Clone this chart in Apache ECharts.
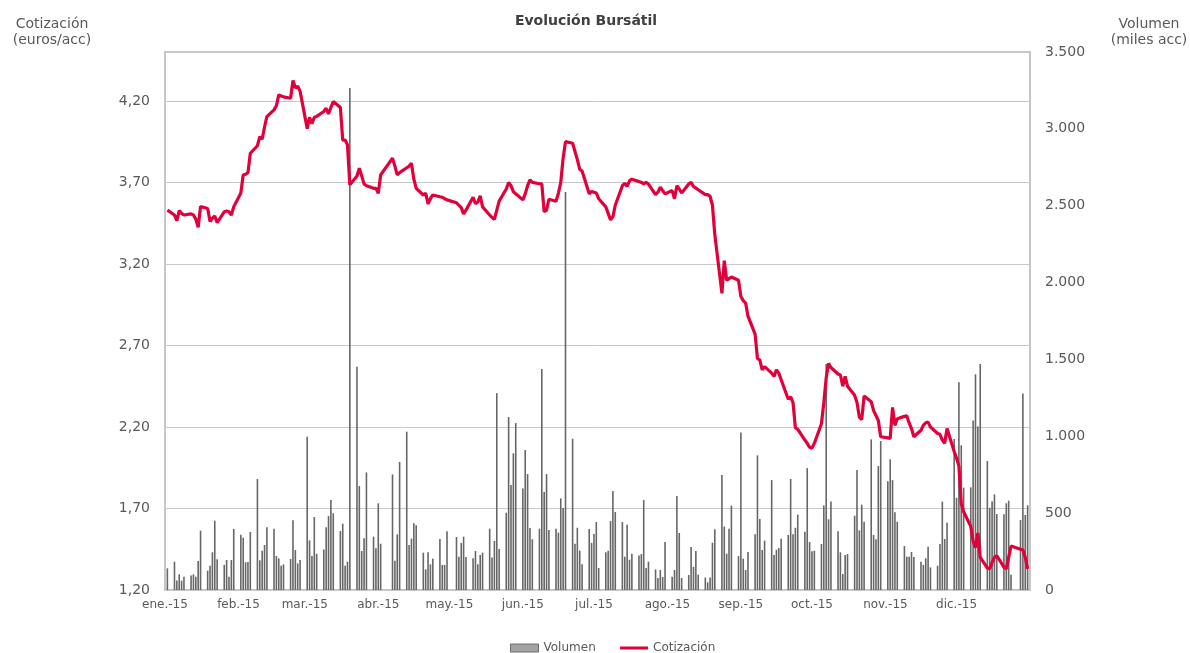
<!DOCTYPE html>
<html><head><meta charset="utf-8">
<script src="https://cdn.jsdelivr.net/npm/echarts@6/dist/echarts.min.js"></script>
<style>html,body{margin:0;padding:0;background:#fff}#c{width:1190px;height:653px}</style>
</head><body><div id="c"></div>
<script>
// Month tick labels (x axis)
const monthLabels = ['ene.-15','feb.-15','mar.-15','abr.-15','may.-15','jun.-15','jul.-15','ago.-15','sep.-15','oct.-15','nov.-15','dic.-15'];
// Market holidays (weekdays without trading)
const holidays = ['2015-01-01','2015-04-03','2015-04-06','2015-05-01','2015-12-25'];

// Daily volume (miles acc), one value per trading day
const volumen = [
 141,184,61,102,61,87,95,102,87,189,386,126,158,245,451,200,163,195,87,195,397,
 360,340,180,182,377,722,193,256,293,408,399,221,206,158,167,202,453,260,173,195,
 997,323,221,475,236,264,408,481,585,499,384,431,158,184,3265,1453,676,254,336,765,347,271,
 564,301,752,191,362,833,1030,293,334,434,421,243,134,245,167,204,332,163,163,382,
 345,217,306,347,215,206,254,167,228,243,399,212,319,1281,267,503,1125,683,889,1086,
 661,911,754,403,330,399,1437,637,754,390,399,373,596,533,2589,984,301,405,256,167,397,306,
 364,442,143,245,256,449,644,507,442,217,425,197,236,225,234,585,143,184,134,78,130,85,312,
 87,130,611,371,78,98,280,150,254,100,82,50,82,308,395,748,412,236,399,549,221,
 1025,204,130,247,362,876,462,260,321,715,228,262,273,334,358,722,362,405,490,379,793,312,
 252,256,299,549,1470,460,575,382,245,104,228,234,483,780,388,555,444,980,358,330,807,969,
 707,850,715,505,444,286,217,217,247,215,184,163,206,282,147,158,299,575,332,438,982,
 600,1351,941,666,668,1103,1403,1064,1470,839,535,577,622,494,492,564,581,100,455,1279,488,551
];

// Daily close (euros/acc), one value per trading day
const cotizacion = [
 3.53,3.50,3.466,3.527,3.51,3.50,3.507,3.50,3.475,3.425,3.552,3.54,3.46,3.48,3.494,3.454,3.52,3.525,3.52,3.50,3.55,
 3.635,3.746,3.75,3.76,3.879,3.925,3.98,3.965,4.04,4.104,4.145,4.17,4.237,4.23,4.225,4.216,4.325,4.28,4.29,4.26,
 4.03,4.10,4.06,4.10,4.105,4.135,4.155,4.12,4.16,4.196,4.16,3.96,3.96,3.93,3.685,3.74,3.787,3.74,3.691,3.68,3.664,3.664,
 3.634,3.746,3.848,3.80,3.746,3.76,3.79,3.80,3.818,3.72,3.664,3.623,3.634,3.568,3.60,3.623,3.612,3.609,3.60,3.593,
 3.575,3.56,3.545,3.507,3.53,3.609,3.57,3.58,3.617,3.55,3.50,3.485,3.474,3.53,3.585,3.66,3.70,3.68,3.644,3.63,
 3.593,3.63,3.68,3.715,3.70,3.692,3.691,3.52,3.53,3.597,3.585,3.634,3.70,3.85,3.95,3.94,3.89,3.84,3.78,3.77,3.63,3.645,
 3.64,3.635,3.60,3.55,3.51,3.47,3.49,3.56,3.68,3.695,3.675,3.71,3.72,3.705,3.70,3.692,3.70,3.69,3.625,3.64,3.67,3.65,3.63,
 3.65,3.60,3.68,3.66,3.635,3.69,3.70,3.675,3.665,3.655,3.625,3.625,3.615,3.56,3.38,3.02,3.22,3.10,3.11,3.12,3.10,
 3.00,2.975,2.96,2.88,2.77,2.62,2.61,2.55,2.57,2.53,2.51,2.55,2.53,2.49,2.37,2.385,2.35,2.195,2.186,2.12,2.10,2.075,
 2.07,2.10,2.22,2.35,2.50,2.59,2.565,2.525,2.519,2.45,2.51,2.45,2.395,2.35,2.26,2.245,2.39,2.355,2.30,2.27,2.24,2.14,
 2.133,2.13,2.32,2.21,2.25,2.265,2.268,2.225,2.19,2.14,2.18,2.21,2.226,2.23,2.20,2.16,2.155,2.12,2.10,2.19,2.05,
 2.01,1.96,1.73,1.68,1.59,1.50,1.46,1.55,1.40,1.335,1.33,1.37,1.40,1.41,1.34,1.33,1.40,1.47,1.45,1.445,1.40,1.33
];

// Trading-day calendar of 2015 (weekdays minus holidays)
function tradingDays() {
  const out = [];
  for (let t = Date.UTC(2015,0,1); t < Date.UTC(2016,0,1); t += 86400000) {
    const d = new Date(t);
    const wd = d.getUTCDay();
    const iso = d.toISOString().slice(0,10);
    if (wd === 0 || wd === 6 || holidays.indexOf(iso) >= 0) continue;
    out.push(t);
  }
  return out;
}
const days = tradingDays();
const volData = days.map((t,i) => [t, volumen[i]]);
const priceData = days.map((t,i) => [t, cotizacion[i]]);
const monthStarts = monthLabels.map((_, m) => Date.UTC(2015, m, 1));

const FONT = '"DejaVu Sans", Verdana, sans-serif';
const GREY = '#595959';
const RED = '#e2003b';

function fmtVol(v) {
  if (v >= 1000) return Math.floor(v/1000) + '.' + String(v % 1000).padStart(3,'0');
  return String(v);
}

const chart = echarts.init(document.getElementById('c'), null, {renderer:'canvas'});
chart.setOption({
  animation: false,
  textStyle: {fontFamily: FONT},
  grid: {left:165, right:160, top:52, bottom:63, show:true, borderColor:'#c6c6c6', borderWidth:2, backgroundColor:'transparent'},
  xAxis: {
    type:'value', min: Date.UTC(2015,0,1), max: Date.UTC(2016,0,1),
    axisLine:{show:false}, axisTick:{show:false}, splitLine:{show:false},
    axisLabel:{
      customValues: monthStarts,
      formatter: (v) => monthLabels[new Date(v).getUTCMonth()],
      color: GREY, fontSize:12, fontFamily: FONT, margin:9
    }
  },
  yAxis: [
    {type:'value', position:'left', min:1.2, max:4.5, interval:0.5,
     axisLine:{show:false}, axisTick:{show:false},
     splitLine:{show:true, lineStyle:{color:'#c8c8c8', width:1}},
     axisLabel:{formatter: v => v.toFixed(2).replace('.',','), showMaxLabel:false, color:GREY, fontSize:14, fontFamily:FONT, margin:15}},
    {type:'value', position:'right', min:0, max:3500, interval:500,
     axisLine:{show:false}, axisTick:{show:false}, splitLine:{show:false},
     axisLabel:{formatter: fmtVol, color:GREY, fontSize:14, fontFamily:FONT, margin:15}}
  ],
  legend: [
    {left: 505, top: 637, itemWidth: 28, itemHeight: 8, itemGap: 4,
     textStyle:{color:GREY, fontSize:12, fontFamily:FONT},
     data: [{name:'Volumen', icon:'rect', itemStyle:{color:'#a3a3a3', borderColor:'#6e6e6e', borderWidth:1}}]},
    {left: 615, top: 637, itemWidth: 28, itemHeight: 3, itemGap: 4,
     textStyle:{color:GREY, fontSize:12, fontFamily:FONT},
     data: [{name:'Cotización', icon:'rect', itemStyle:{color:RED}}]}
  ],
  graphic: [
    {type:'text', x:586, y:21, style:{text:'Evolución Bursátil', fill:'#404040', font:'bold 14px ' + FONT, align:'center', verticalAlign:'middle'}},
    {type:'text', x:52, y:24, style:{text:'Cotización', fill:GREY, font:'14px ' + FONT, align:'center', verticalAlign:'middle'}},
    {type:'text', x:52, y:40, style:{text:'(euros/acc)', fill:GREY, font:'14px ' + FONT, align:'center', verticalAlign:'middle'}},
    {type:'text', x:1149, y:24, style:{text:'Volumen', fill:GREY, font:'14px ' + FONT, align:'center', verticalAlign:'middle'}},
    {type:'text', x:1149, y:40, style:{text:'(miles acc)', fill:GREY, font:'14px ' + FONT, align:'center', verticalAlign:'middle'}}
  ],
  series: [
    {name:'Volumen', type:'bar', yAxisIndex:1, data: volData, barWidth:1.6,
     itemStyle:{color:'#666666'}, z:2},
    {name:'Cotización', type:'line', yAxisIndex:0, data: priceData, symbol:'none',
     lineStyle:{color:RED, width:3.2}, itemStyle:{color:RED}, z:3}
  ]
});
</script>
</body></html>
